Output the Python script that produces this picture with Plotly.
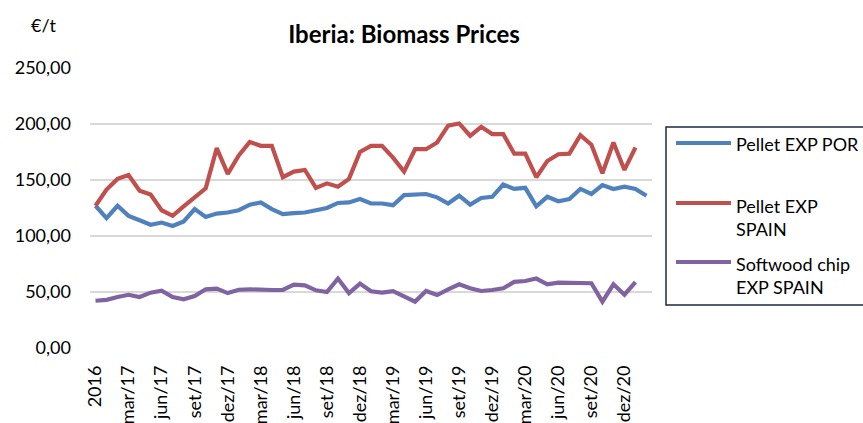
import plotly.graph_objects as go

# Monthly categories (Dec 2016 .. Feb 2021)
months = [
    "dez/16",
    "jan/17", "fev/17", "mar/17", "abr/17", "mai/17", "jun/17", "jul/17", "ago/17", "set/17", "out/17", "nov/17", "dez/17",
    "jan/18", "fev/18", "mar/18", "abr/18", "mai/18", "jun/18", "jul/18", "ago/18", "set/18", "out/18", "nov/18", "dez/18",
    "jan/19", "fev/19", "mar/19", "abr/19", "mai/19", "jun/19", "jul/19", "ago/19", "set/19", "out/19", "nov/19", "dez/19",
    "jan/20", "fev/20", "mar/20", "abr/20", "mai/20", "jun/20", "jul/20", "ago/20", "set/20", "out/20", "nov/20", "dez/20",
    "jan/21", "fev/21",
]

tick_vals = ["dez/16", "mar/17", "jun/17", "set/17", "dez/17", "mar/18", "jun/18", "set/18", "dez/18",
             "mar/19", "jun/19", "set/19", "dez/19", "mar/20", "jun/20", "set/20", "dez/20"]
tick_text = ["2016", "mar/17", "jun/17", "set/17", "dez/17", "mar/18", "jun/18", "set/18", "dez/18",
             "mar/19", "jun/19", "set/19", "dez/19", "mar/20", "jun/20", "set/20", "dez/20"]

pellet_por = [127, 116, 127, 118, 114, 110, 112, 109, 113, 124, 117, 120, 121, 123, 128, 130, 124,
              119.5, 120.5, 121, 123, 125, 129.5, 130, 133, 129, 129, 127.5, 136.5, 137, 137.5, 134.5,
              129, 136, 128, 134, 135, 146, 142, 143, 126.5, 135, 131, 133, 142, 137.5, 145.5, 142,
              144, 142, 136]

pellet_spain = [127, 141.5, 151, 154.5, 140.5, 137, 123, 118, 126.5, 134, 142.5, 178.5, 155.5, 172,
                184, 180.5, 180.5, 152.5, 157.5, 159, 143, 147, 144, 151, 175, 180.5, 180.5, 170,
                157.5, 177.5, 177.5, 183.5, 198.5, 200.5, 189.5, 197.5, 191, 191, 173.5, 173.5,
                152.5, 167, 173, 173.5, 190, 181.5, 156, 183.5, 159, 179]

chip_spain = [42.2, 43, 45.5, 47.5, 45.5, 49.4, 51.2, 45.5, 43.5, 46.4, 52.4, 53, 49, 52, 52.4, 51.8,
              51.8, 51.8, 56.6, 56, 51.5, 50, 62, 49, 57.5, 50.6, 49.5, 50.8, 46.4, 41.4, 50.9, 47.3,
              52.4, 56.9, 53.3, 50.9, 51.8, 53.3, 59, 59.8, 62, 56.9, 58.4, 58.4, 57.8, 57.8, 41.4,
              56.9, 47.6, 58.9]

series_names = ["Pellet EXP POR", "Pellet EXP<br>SPAIN", "Softwood chip<br>EXP SPAIN"]
series_colors = ["#4f81bd", "#c0504d", "#8064a2"]
y_ticks = [0, 50, 100, 150, 200, 250]

FONT = "Lato"

fig = go.Figure()
for vals, name, color in zip([pellet_por, pellet_spain, chip_spain], series_names, series_colors):
    fig.add_trace(go.Scatter(
        x=months[:len(vals)], y=vals, mode="lines", name=name.replace("<br>", " "),
        line=dict(color=color, width=4.2), showlegend=False,
    ))

# plot-area pixel geometry helpers for the manual legend
L, R, T, B = 90, 652, 68, 348
def px(xp):
    return (xp - L) / (R - L)
def py(yp):
    return (B - yp) / (B - T)

shapes = [dict(type="rect", xref="paper", yref="paper", x0=px(666), x1=px(905), y0=py(305), y1=py(127),
               line=dict(color="#1c2a3c", width=1.5), fillcolor="rgba(0,0,0,0)")]
legend_line_y = [143, 203, 262]
legend_text_y = [143, 205, 263]
annotations = []
for name, color, ly, ty in zip(series_names, series_colors, legend_line_y, legend_text_y):
    shapes.append(dict(type="line", xref="paper", yref="paper", x0=px(676), x1=px(731), y0=py(ly), y1=py(ly),
                       line=dict(color=color, width=4)))
    annotations.append(dict(xref="paper", yref="paper", x=px(734), y=py(ty - 12), xanchor="left", yanchor="top",
                            text=name, showarrow=False, align="left",
                            font=dict(family=FONT, size=18, color="#000000")))

annotations.append(dict(xref="paper", yref="paper", x=px(43), y=py(25), xanchor="center", yanchor="middle",
                        text="€/t", showarrow=False, font=dict(family=FONT, size=18, color="#000000")))

fig.update_layout(
    width=863, height=423,
    margin=dict(l=L, r=863 - R, t=T, b=423 - B, autoexpand=False),
    paper_bgcolor="white", plot_bgcolor="white",
    separators=",.",
    title=dict(text="<b>Iberia: Biomass Prices</b>", xref="container", yref="container",
               x=404 / 863, y=1 - 35 / 423, xanchor="center", yanchor="middle",
               font=dict(family=FONT, size=24, color="#000000")),
    font=dict(family=FONT, size=18, color="#000000"),
    shapes=shapes,
    annotations=annotations,
    xaxis=dict(type="category", categoryorder="array", categoryarray=months,
               tickmode="array", tickvals=tick_vals, ticktext=tick_text, tickangle=-90,
               showgrid=False, showline=False, zeroline=False, ticks="", ticklabelstandoff=13,
               tickfont=dict(family=FONT, size=18, color="#000000"), range=[-0.5, len(months) - 0.5]),
    yaxis=dict(range=[0, 250], tickmode="array", tickvals=y_ticks, tickformat=".2f",
               showgrid=True, gridcolor="#d9d9d9", gridwidth=1.5, zeroline=False, showline=False,
               ticks="", ticklabelstandoff=18, tickfont=dict(family=FONT, size=18, color="#000000")),
)

fig.write_html("out.html", config={"displayModeBar": False},
               post_script="document.body.style.margin='0';document.body.style.overflow='hidden';")
